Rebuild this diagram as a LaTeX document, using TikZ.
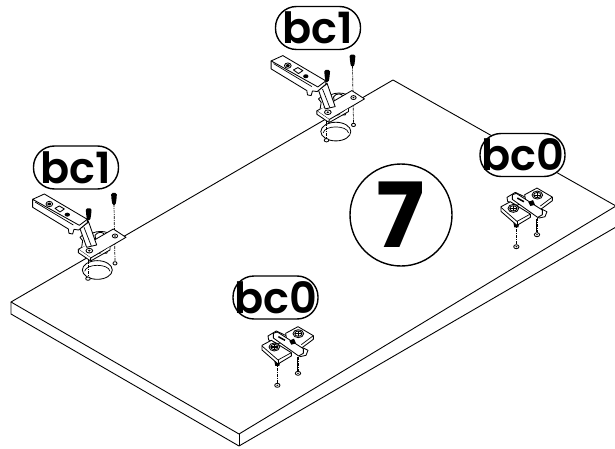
\documentclass[tikz,border=0pt]{standalone}
\usepackage{fontspec}
\setmainfont{Poppins}
\newfontfamily\labelfont{Poppins SemiBold}
\tikzset{
  boardline/.style={line width=0.9pt,line join=round},
  pill/.style={draw,line width=1.4pt,fill=white,rounded corners=21pt,minimum width=85pt,minimum height=43pt,inner sep=0pt,text=black,font=\labelfont\fontsize{43}{43}\selectfont},
  numcircle/.style={draw,circle,line width=1.4pt,fill=white,minimum size=102pt,inner sep=0pt,font=\fontsize{90}{90}\selectfont\bfseries},
  part/.style={line width=0.85pt,fill=white,line join=round},
  centre/.style={line width=0.7pt,dash pattern=on 3pt off 1pt on 1pt off 1pt},
  hingepart/.pic={
    \begin{scope}[x=0.3333pt,y=-0.3333pt]
      % cup recess in board
      \draw[part] (292,420) ellipse (45 and 28);
      \draw[line width=0.7pt] (254,424) .. controls (258,400) and (326,400) .. (330,424);
      \draw[part] (264,446) ellipse (7 and 5);
      \draw[part] (345,400) ellipse (6 and 5);
      \draw[centre] (265,262) -- (265,440);
      \draw[centre] (342,222) -- (345,395);
      % cup above plate
      \draw[part] (258,325) .. controls (275,298) and (328,298) .. (338,322) -- (320,370) -- (265,370) -- cycle;
      \draw[part] (285,316) .. controls (292,304) and (312,304) .. (314,316) -- (306,348) -- (292,352) -- cycle;
      % plate
      \draw[part] (235,358) -- (340,297) -- (378,322) -- (272,384) -- cycle;
      \draw[part] (235,358) -- (235,368) -- (272,393) -- (272,384);
      \draw[part] (272,393) -- (330,360) -- (330,350);
      \draw[part] (245,352) -- (248,332) -- (240,322) -- (252,312) -- (262,345);
      \draw[part] (268,362) ellipse (10 and 7);
      \fill (268,362) ellipse (4 and 3);
      \draw[part] (345,318) ellipse (8 and 6);
      \fill (345,318) ellipse (3 and 2.5);
      % arm neck
      \draw[part] (240,296) -- (260,352) -- (290,345) -- (266,276) -- cycle;
      \draw[line width=0.7pt] (252,292) -- (274,348);
      % arm
      \draw[part] (98,208) -- (98,232) -- (205,297) -- (207,310) -- (218,312) -- (222,298) -- (236,300) -- (262,278) -- (262,268) -- cycle;
      \draw[part] (98,208) -- (133,192) -- (262,268) -- (238,286) -- cycle;
      \draw[line width=0.7pt] (105,216) -- (220,285);
      \draw[part] (148,222) ellipse (10 and 8);
      \fill (148,222) ellipse (6 and 4.5);
      \draw[part] (165,235) -- (178,228) -- (193,237) -- (180,246) -- cycle;
      \fill (202,254) ellipse (8 and 6);
      % screws
      \fill[rounded corners=1.5pt] (257,235) -- (275,235) -- (273,258) -- (270,272) -- (262,272) -- (259,258) -- cycle;
      \fill[rounded corners=1.5pt] (333,189) -- (351,189) -- (349,212) -- (346,226) -- (338,226) -- (335,212) -- cycle;
    \end{scope}
  },
  platepart/.pic={
    \begin{scope}[x=0.3333pt,y=-0.3333pt]
      \draw[centre] (172,275) -- (172,340);
      \draw[centre] (234,260) -- (234,304);
      \draw[part] (172,346) ellipse (8 and 6);
      \fill (172,346) ellipse (3 and 2);
      \draw[part] (234,310) ellipse (8 and 6);
      \fill (234,310) ellipse (3 and 2);
      \draw[line width=1.6pt] (232,262) -- (232,302);
      \fill (162,268) -- (182,268) -- (178,288) -- (166,288) -- cycle;
      % rear wing
      \draw[part] (144,198) -- (169,183) -- (205,200) -- (175,222) -- (146,210) -- cycle;
      % right wing
      \draw[part] (197,190) -- (234,170) -- (280,197) -- (280,208) -- (245,234) -- (200,208) -- cycle;
      \draw[line width=0.7pt] (244,224) -- (280,197);
      % small parts at the right
      \draw[part] (232,244) -- (250,234) -- (264,241) -- (258,256) -- (240,260) -- cycle;
      % middle bar
      \draw[part] (160,190) -- (172,186) -- (250,236) -- (250,250) -- (236,258) -- (160,204) -- cycle;
      % left wing
      \draw[part] (126,226) -- (154,211) -- (214,248) -- (214,258) -- (174,282) -- (126,240) -- cycle;
      \draw[line width=0.7pt] (126,228) -- (174,270) -- (214,248);
      \draw[line width=0.7pt] (174,270) -- (174,282);
      % screws
      \draw[part] (163,231) ellipse (16 and 12);
      \draw[line width=1.1pt] (152,231) -- (174,231) (163,223) -- (163,239);
      \draw[part,fill=none] (163,231) ellipse (11 and 8);
      \draw[part] (235,191) ellipse (16 and 12);
      \draw[line width=1.1pt] (224,191) -- (246,191) (235,183) -- (235,199);
      \draw[part,fill=none] (235,191) ellipse (11 and 8);
      \fill (208,212) -- (222,206) -- (228,220) -- (214,224) -- cycle;
      \fill (176,198) -- (196,209) -- (194,213) -- (174,202) -- cycle;
    \end{scope}
  }
}
\begin{document}
\begin{tikzpicture}[x=1pt,y=-1pt]
  \useasboundingbox (0,0) rectangle (615,449);
  \clip (0,0) rectangle (615,449);
  % board
  \coordinate (bl) at (11,302);
  \coordinate (bt) at (393,80);
  \coordinate (br) at (616,206);
  \coordinate (bf) at (239,434);
  \coordinate (blb) at (11,314);
  \coordinate (bfb) at (239,446);
  \coordinate (brb) at (616,227);
  \draw[boardline,fill=white] (bl) -- (bt) -- (br) -- (bf) -- cycle;
  \draw[boardline] (bl) -- (blb) -- (bfb) -- (brb);
  \draw[boardline] (bf) -- (bfb);
  % hardware
  \pic at (0,130) {hingepart};
  \pic at (238.5,-8.4) {hingepart};
  \pic at (220,270) {platepart};
  \pic at (459,131.4) {platepart};
  % labels
  \node[pill] (l1) at (76,167.5) {bc1};
  \node[pill] (l2) at (318,28) {bc1};
  \node[pill] (l3) at (275.5,297.5) {bc0};
  \node[pill] (l4) at (522.5,155) {bc0};
  \node[numcircle] (n) at (401,215) {7};
\end{tikzpicture}
\end{document}
